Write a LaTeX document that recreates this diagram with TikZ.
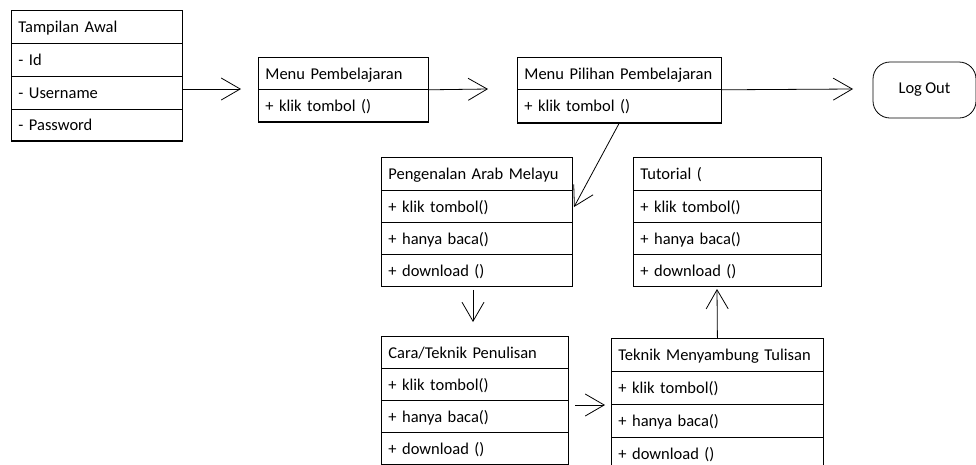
\documentclass[tikz,border=0pt]{standalone}
\usepackage{fontspec}
\setmainfont{Carlito}[WordSpace=0.9]
\usetikzlibrary{arrows.meta}
\tikzset{
  base/.style={line width=0.8pt, draw=black},
  txt/.style={font=\fontsize{16.5}{19}\selectfont},
  row/.style={base, txt, anchor=north west, inner xsep=7pt, inner ysep=0pt, align=left,
    text height=14pt, text depth=2pt},
  link/.style={line width=0.8pt, -{Straight Barb[length=19pt,width=22pt,line width=0.8pt]}},
  heavy/.style={line width=1.6pt}
}
\begin{document}
\begin{tikzpicture}[x=1pt,y=-1pt]
\useasboundingbox (0,0) rectangle (976,464);
\clip (0,0) rectangle (976,464);
% Tampilan Awal
\node[row, text width=157pt, minimum height=33pt] (ta1) at (11,10) {\mbox{Tampilan Awal}};
\node[row, text width=157pt, minimum height=33pt] (ta2) at (11,43) {\mbox{- Id}};
\node[row, text width=157pt, minimum height=33pt] (ta3) at (11,76) {\mbox{- Username}};
\node[row, text width=157pt, minimum height=31pt] (ta4) at (11,109) {\mbox{- Password}};
\draw[heavy] (ta4.south west) -- (ta4.south east);
% Menu Pembelajaran
\node[row, text width=156pt, minimum height=32pt] (mp1) at (258,57) {\mbox{Menu Pembelajaran}};
\node[row, text width=156pt, minimum height=32pt] (mp2) at (258,89) {\mbox{+ klik tombol ()}};
\draw[heavy] (mp2.south west) -- (mp2.south east);
% Menu Pilihan Pembelajaran
\node[row, text width=190pt, minimum height=32pt] (ml1) at (517,57) {\mbox{Menu Pilihan Pembelajaran}};
\node[row, text width=190pt, minimum height=33pt] (ml2) at (517,89) {\mbox{+ klik tombol ()}};
\draw[heavy] (ml2.south west) -- (ml2.south east);
% Log Out
\node[base, txt, rounded corners=17pt, minimum width=103pt, minimum height=56pt] (lo) at (924.5,90) {Log Out};
% Pengenalan Arab Melayu
\node[row, text width=177pt, minimum height=33pt] (pa1) at (381,157) {\mbox{Pengenalan Arab Melayu}};
\node[row, text width=177pt, minimum height=32pt] (pa2) at (381,190) {\mbox{+ klik tombol()}};
\node[row, text width=177pt, minimum height=32pt] (pa3) at (381,222) {\mbox{+ hanya baca()}};
\node[row, text width=177pt, minimum height=32pt] (pa4) at (381,254) {\mbox{+ download ()}};
% Tutorial
\node[row, text width=174pt, minimum height=33pt] (tu1) at (633,157) {\mbox{Tutorial (}};
\node[row, text width=174pt, minimum height=32pt] (tu2) at (633,190) {\mbox{+ klik tombol()}};
\node[row, text width=174pt, minimum height=32pt] (tu3) at (633,222) {\mbox{+ hanya baca()}};
\node[row, text width=174pt, minimum height=32pt] (tu4) at (633,254) {\mbox{+ download ()}};
% Cara/Teknik Penulisan
\node[row, text width=173pt, minimum height=32pt] (ct1) at (381,336) {\mbox{Cara/Teknik Penulisan}};
\node[row, text width=173pt, minimum height=32pt] (ct2) at (381,368) {\mbox{+ klik tombol()}};
\node[row, text width=173pt, minimum height=32pt] (ct3) at (381,400) {\mbox{+ hanya baca()}};
\node[row, text width=173pt, minimum height=32pt] (ct4) at (381,432) {\mbox{+ download ()}};
% Teknik Menyambung Tulisan
\node[row, text width=198pt, minimum height=33pt] (tk1) at (611,338) {\mbox{Teknik Menyambung Tulisan}};
\node[row, text width=198pt, minimum height=33pt] (tk2) at (611,371) {\mbox{+ klik tombol()}};
\node[row, text width=198pt, minimum height=33pt] (tk3) at (611,404) {\mbox{+ hanya baca()}};
\node[row, text width=198pt, minimum height=33pt] (tk4) at (611,437) {\mbox{+ download ()}};
% free arrow ends
\coordinate (e1) at (241,89);
\coordinate (e2) at (488,89);
\coordinate (e3) at (853,89);
\coordinate (e4) at (574,207);
\coordinate (e5) at (473,322);
\coordinate (s6) at (575,405);
\coordinate (e6) at (605,405);
\coordinate (e7) at (717,289);
% connectors
\draw[link] (ta3.east |- e1) -- (e1);
\draw[link] (mp1.south east) -- (e2);
\draw[link] (ml1.south east) -- (e3);
\draw[link] (ml2.south) -- (e4);
\draw[link] ([yshift=-3pt]pa4.south -| e5) -- (e5);
\draw[link] (s6) -- (e6);
\draw[link] (tk1.north) -- (e7);
\end{tikzpicture}
\end{document}
